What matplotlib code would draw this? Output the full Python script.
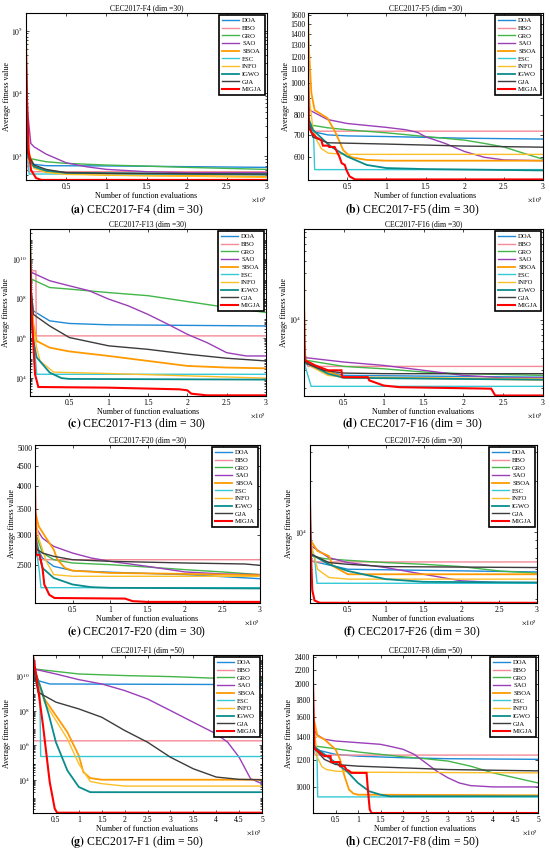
import matplotlib
matplotlib.use("Agg")
import matplotlib.pyplot as plt
from matplotlib.ticker import FixedLocator, FuncFormatter, LogLocator, NullLocator, NullFormatter, FixedFormatter

plt.rcParams['font.family'] = ['Liberation Serif', 'DejaVu Serif']
plt.rcParams['mathtext.fontset'] = 'stix'

# ---------------- data (x in units of 1e5 function evaluations) ----------------
ALGOS = ["DOA", "BBO", "GRO", "SAO", "SBOA", "ESC", "INFO", "IGWO", "GJA", "MIGJA"]

F4 = {
    "DOA":   ([0, 0.01, 0.04, 0.1, 0.25, 1.0, 3.0], [3.0e4, 2000, 865, 738, 703, 697, 661]),
    "BBO":   ([0, 0.01, 0.03, 3.0], [2.5e4, 1500, 564, 564]),
    "GRO":   ([0, 0.01, 0.04, 0.25, 0.5, 1, 1.5, 2, 2.5, 3], [3e4, 2000, 918, 813, 765, 720, 693, 661, 637, 614]),
    "SAO":   ([0, 0.02, 0.06, 0.1, 0.25, 0.5, 0.75, 1, 1.5, 2, 3], [5e4, 5000, 1590, 1405, 1076, 783, 677, 614, 564, 543, 543]),
    "SBOA":  ([0, 0.005, 0.02, 0.1, 0.25, 0.5, 1, 3], [1.9e5, 2e4, 1245, 677, 564, 531, 499, 470]),
    "ESC":   ([0, 0.01, 0.04, 3], [2e4, 1500, 518, 518]),
    "INFO":  ([0, 0.005, 0.02, 0.1, 0.25, 0.5, 3], [1e5, 1e4, 920, 640, 550, 510, 458]),
    "IGWO":  ([0, 0.02, 0.1, 0.25, 0.5, 3], [2e4, 975, 677, 585, 543, 506]),
    "GJA":   ([0, 0.02, 0.1, 0.25, 0.5, 1, 3], [3e4, 1103, 720, 614, 543, 531, 518]),
    "MIGJA": ([0, 0.0125, 0.033, 0.0625, 0.125, 0.19, 3], [4.8e4, 7800, 1260, 600, 447, 417, 417]),
}

F5 = {
    "DOA":   ([0, 0.06, 0.25, 0.5, 1, 1.5, 2, 3], [775, 716, 700, 695, 692, 688, 684, 680]),
    "BBO":   ([0, 0.04, 3], [741, 718, 718]),
    "GRO":   ([0, 0.05, 0.25, 0.5, 1, 1.5, 2, 2.25, 2.5, 2.75, 3], [775, 748, 735, 725, 710, 692, 675, 660, 644, 617, 592]),
    "SAO":   ([0, 0.02, 0.25, 0.5, 1, 1.25, 1.4, 1.5, 1.75, 2, 2.25, 2.5, 3], [848, 830, 778, 757, 737, 725, 712, 691, 660, 624, 600, 589, 586]),
    "SBOA":  ([0, 0.013, 0.043, 0.085, 0.25, 0.35, 0.45, 0.55, 0.75, 1, 3], [1620, 1252, 934, 830, 785, 712, 630, 600, 589, 586, 586]),
    "ESC":   ([0, 0.07, 0.085, 3], [741, 712, 551, 551]),
    "INFO":  ([0, 0.02, 0.06, 0.11, 0.17, 0.26, 0.5, 3], [1043, 889, 741, 675, 637, 617, 612, 612]),
    "IGWO":  ([0, 0.06, 0.2, 0.3, 0.5, 0.75, 1, 1.5, 3], [792, 726, 675, 644, 603, 569, 557, 553, 548]),
    "GJA":   ([0, 0.06, 0.25, 0.5, 1, 2, 3], [775, 690, 663, 661, 657, 648, 643]),
    "MIGJA": ([0, 0.013, 0.043, 0.106, 0.17, 0.19, 0.255, 0.27, 0.34, 0.36, 0.40, 0.43, 0.47, 0.49, 0.53, 0.6, 3],
              [1091, 737, 712, 688, 675, 650, 650, 644, 644, 630, 603, 576, 569, 550, 526, 515, 515]),
}

F13 = {
    "DOA":   ([0, 0.043, 0.25, 0.5, 1, 3], [7.9e8, 2.4e7, 7.6e6, 5.6e6, 4.8e6, 4.2e6]),
    "BBO":   ([0, 0.02, 0.075, 0.08, 3], [1e9, 2.5e9, 2.5e9, 1.33e6, 1.33e6]),
    "GRO":   ([0, 0.02, 0.25, 0.5, 1, 1.5, 2, 2.5, 3], [3.2e11, 9.5e8, 3.6e8, 3.0e8, 2.0e8, 1.4e8, 7.1e7, 3.6e7, 2.0e7]),
    "SAO":   ([0, 0.02, 0.25, 0.5, 0.75, 1, 1.25, 1.5, 1.75, 2, 2.25, 2.5, 2.75, 3],
              [3e9, 2.07e9, 7.9e8, 4.4e8, 2.5e8, 9.4e7, 4.3e7, 1.6e7, 5.2e6, 1.6e6, 6.1e5, 1.9e5, 1.3e5, 1.3e5]),
    "SBOA":  ([0, 0.043, 0.085, 0.25, 0.5, 1, 1.5, 2, 2.5, 3], [7.9e8, 5.2e6, 7.4e5, 3.4e5, 2.2e5, 1.3e5, 7.3e4, 4.1e4, 3.4e4, 3.1e4]),
    "ESC":   ([0, 0.021, 0.064, 0.085, 3], [7.9e8, 1.6e7, 1.6e5, 1.56e4, 1.56e4]),
    "INFO":  ([0, 0.043, 0.085, 0.128, 0.3, 1, 2, 3], [7.9e8, 3.5e6, 3.4e5, 7.3e4, 2.0e4, 1.7e4, 1.3e4, 1.0e4]),
    "IGWO":  ([0, 0.043, 0.085, 0.25, 0.4, 0.5, 3], [1.1e8, 7.4e5, 1.1e5, 1.9e4, 1.0e4, 9.1e3, 8.4e3]),
    "GJA":   ([0, 0.043, 0.25, 0.5, 1, 1.5, 2, 2.5, 3], [7.9e8, 1.6e7, 4.2e6, 1.1e6, 4.2e5, 2.8e5, 1.6e5, 1.0e5, 7.3e4]),
    "MIGJA": ([0, 0.021, 0.064, 0.106, 1.0, 1.9, 2.0, 2.05, 2.25, 3],
              [4.6e10, 1.64e7, 1.56e4, 3570, 3310, 2730, 2430, 1650, 1360, 1360]),
}

F16 = {
    "DOA":   ([0, 0.03, 0.25, 0.5, 3], [4200, 3660, 3000, 2670, 2560]),
    "BBO":   ([0, 0.05, 3], [4000, 3300, 3300]),
    "GRO":   ([0, 0.03, 0.5, 1, 1.5, 2, 3], [4400, 3810, 3300, 3120, 2890, 2780, 2670]),
    "SAO":   ([0, 0.03, 0.5, 1, 1.5, 2, 2.5, 3], [4500, 4050, 3660, 3380, 3010, 2670, 2520, 2520]),
    "SBOA":  ([0, 0.005, 0.02, 0.25, 0.5, 3], [8.5e4, 6000, 3810, 3010, 2560, 2410]),
    "ESC":   ([0, 0.02, 0.09, 3], [4460, 3200, 2060, 2060]),
    "INFO":  ([0, 0.02, 0.1, 0.3, 0.6, 3], [5000, 3800, 3250, 2670, 2520, 2470]),
    "IGWO":  ([0, 0.02, 0.1, 0.3, 0.5, 3], [4200, 3660, 3380, 2780, 2520, 2410]),
    "GJA":   ([0, 0.03, 0.25, 0.5, 1, 3], [4000, 3520, 3010, 2820, 2780, 2780]),
    "MIGJA": ([0, 0.01, 0.14, 0.3, 0.47, 0.48, 0.8, 0.82, 1.0, 1.2, 2.35, 2.4, 3],
              [1.25e4, 3810, 3380, 3010, 3010, 2560, 2560, 2370, 2100, 2020, 1950, 1660, 1660]),
}

F20 = {
    "DOA":   ([0, 0.1, 0.25, 0.5, 1, 2, 3], [2826, 2611, 2485, 2423, 2400, 2366, 2310]),
    "BBO":   ([0, 0.01, 0.05, 3], [2660, 2660, 2585, 2585]),
    "GRO":   ([0, 0.1, 0.25, 0.5, 1, 1.5, 2, 2.5, 3], [3055, 2689, 2585, 2535, 2510, 2475, 2437, 2404, 2366]),
    "SAO":   ([0, 0.1, 0.25, 0.5, 0.75, 1, 1.5, 2, 2.5, 3], [3150, 2937, 2797, 2689, 2611, 2560, 2485, 2404, 2376, 2366]),
    "SBOA":  ([0, 0.05, 0.15, 0.25, 0.3, 0.4, 0.5, 1, 2, 3], [3440, 3150, 2937, 2743, 2585, 2461, 2423, 2390, 2376, 2357]),
    "ESC":   ([0, 0.035, 0.058, 0.08, 3], [3150, 2600, 2410, 2190, 2190]),
    "INFO":  ([0, 0.05, 0.15, 0.25, 0.5, 3], [3370, 2937, 2560, 2366, 2343, 2343]),
    "IGWO":  ([0, 0.1, 0.25, 0.5, 0.75, 1, 3], [3000, 2461, 2320, 2232, 2197, 2188, 2180]),
    "GJA":   ([0, 0.1, 0.25, 0.5, 1, 2, 2.8, 3], [2770, 2689, 2637, 2585, 2560, 2535, 2520, 2500]),
    "MIGJA": ([0, 0.013, 0.06, 0.08, 0.10, 0.124, 0.146, 0.19, 0.26, 1.2, 1.3, 1.5, 3],
              [3990, 2660, 2660, 2560, 2460, 2230, 2190, 2100, 2060, 2053, 2022, 2013, 2013]),
}

F26 = {
    "DOA":   ([0, 0.02, 0.5, 3], [7500, 6700, 5990, 5770]),
    "BBO":   ([0, 0.05, 3], [7000, 6620, 6620]),
    "GRO":   ([0, 0.02, 0.2, 0.5, 1, 1.5, 2, 2.5, 3], [8000, 7180, 6920, 6770, 6560, 6410, 6210, 5850, 5670]),
    "SAO":   ([0, 0.02, 0.25, 0.5, 1, 1.5, 2, 2.5, 3], [8500, 8220, 7020, 6560, 6130, 5590, 5110, 4990, 4990]),
    "SBOA":  ([0, 0.1, 0.25, 0.3, 0.5, 3], [9010, 7690, 7180, 6270, 5590, 5590]),
    "ESC":   ([0, 0.005, 0.02, 0.06, 0.093, 3], [3.2e4, 1.2e4, 8000, 7000, 4940, 4940]),
    "INFO":  ([0, 0.1, 0.25, 0.5, 3], [9010, 5990, 5350, 5230, 5230]),
    "IGWO":  ([0, 0.02, 0.25, 0.5, 1, 1.5, 3], [8000, 7340, 6410, 5850, 5230, 5040, 4990]),
    "GJA":   ([0, 0.02, 0.25, 0.5, 1, 3], [8000, 7340, 6560, 6410, 6210, 6130]),
    "MIGJA": ([0, 0.01, 0.03, 0.06, 0.13, 3], [1.52e4, 8000, 4500, 3900, 3780, 3780]),
}

F1 = {
    "DOA":   ([0, 0.11, 0.365, 5], [6.4e10, 5.6e9, 3.6e9, 3.3e9]),
    "BBO":   ([0, 0.01, 5], [6.4e10, 1.86e6, 1.86e6]),
    "GRO":   ([0, 1, 2, 3, 4, 5], [2.7e10, 1.36e10, 1.1e10, 9.6e9, 7.7e9, 6.4e9]),
    "SAO":   ([0, 0.5, 1, 1.5, 2, 2.5, 3, 3.5, 4, 4.25, 4.5, 4.75, 5],
              [2.7e10, 1.36e10, 6.4e9, 3.6e9, 1.5e9, 4.9e8, 1.05e8, 2.2e7, 4.7e6, 1.55e6, 2.1e5, 1.2e4, 6.2e3]),
    "SBOA":  ([0, 0.25, 0.5, 0.75, 1, 1.1, 1.25, 1.5, 5], [4.1e10, 4.9e8, 5.4e7, 5.9e6, 2.6e5, 2.9e4, 1.3e4, 1.05e4, 1.05e4]),
    "ESC":   ([0, 0.073, 0.146, 0.168, 5], [6.4e10, 4.5e9, 3.6e9, 2.3e5, 2.3e5]),
    "INFO":  ([0, 0.25, 0.5, 0.75, 1, 1.25, 1.5, 2, 5], [4.1e10, 3.2e8, 2.8e7, 2.4e6, 8.7e4, 8.3e3, 6.2e3, 4.5e3, 4.5e3]),
    "IGWO":  ([0, 0.2, 0.35, 0.5, 0.75, 1, 1.25, 5], [4.1e10, 1.2e9, 5.4e7, 1.55e6, 3.6e4, 4.0e3, 2.0e3, 2.0e3]),
    "GJA":   ([0, 0.11, 0.5, 1, 1.5, 2, 2.5, 3, 3.5, 4, 4.5, 5],
              [4.1e10, 1.2e9, 3.2e8, 1.3e8, 4.3e7, 7.4e6, 1.55e6, 2.1e5, 4.5e4, 1.5e4, 1.1e4, 1.05e4]),
    "MIGJA": ([0, 0.073, 0.219, 0.365, 0.474, 0.526, 5], [1.55e11, 1.1e10, 1.4e7, 7.7e3, 224, 130, 130]),
}

F8 = {
    "DOA":   ([0, 0.03, 0.5, 1, 2, 3, 5], [1350, 1288, 1245, 1230, 1217, 1209, 1204]),
    "BBO":   ([0, 0.05, 5], [1300, 1239, 1239]),
    "GRO":   ([0, 0.03, 0.5, 1, 1.5, 2, 2.5, 3, 3.5, 4, 4.5, 5],
              [1320, 1317, 1293, 1265, 1245, 1225, 1209, 1190, 1150, 1099, 1063, 1027]),
    "SAO":   ([0, 0.07, 0.25, 0.5, 1, 1.5, 1.75, 2, 2.25, 2.5, 2.75, 3, 3.25, 3.5, 4, 5],
              [1508, 1426, 1378, 1362, 1347, 1332, 1311, 1288, 1245, 1177, 1112, 1063, 1027, 1009, 1000, 1000]),
    "SBOA":  ([0, 0.1, 0.25, 0.5, 0.6, 0.7, 0.8, 0.9, 1, 5], [1614, 1409, 1378, 1288, 1204, 1075, 982, 956, 949, 945]),
    "ESC":   ([0, 0.09, 0.104, 5], [1320, 1250, 935, 935]),
    "INFO":  ([0, 0.1, 0.2, 0.3, 0.5, 1, 5], [1578, 1217, 1145, 1124, 1112, 1104, 1099]),
    "IGWO":  ([0, 0.03, 0.5, 0.75, 1, 1.25, 1.5, 1.7, 5], [1350, 1311, 1177, 1112, 1027, 971, 949, 939, 939]),
    "GJA":   ([0, 0.03, 0.25, 0.5, 1, 2, 3, 5], [1450, 1300, 1204, 1163, 1150, 1137, 1124, 1114]),
    "MIGJA": ([0, 0.03, 0.14, 0.25, 0.39, 0.40, 0.59, 0.60, 0.70, 0.74, 0.81, 0.85, 1.19, 1.22, 1.26, 1.30, 5],
              [2022, 1293, 1265, 1230, 1230, 1182, 1182, 1150, 1150, 1124, 1112, 1099, 1099, 982, 860, 839, 839]),
}

TITLES = ["CEC2017-F4 (dim =30)", "CEC2017-F5 (dim =30)", "CEC2017-F13 (dim =30)", "CEC2017-F16 (dim =30)",
          "CEC2017-F20 (dim =30)", "CEC2017-F26 (dim =30)", "CEC2017-F1 (dim =50)", "CEC2017-F8 (dim =50)"]
CAPTION_TAGS = ["(a)", "(b)", "(c)", "(d)", "(e)", "(f)", "(g)", "(h)"]
CAPTIONS = ["CEC2017-F4 (dim = 30)", "CEC2017-F5 (dim = 30)", "CEC2017-F13 (dim = 30)", "CEC2017-F16 (dim = 30)",
            "CEC2017-F20 (dim = 30)", "CEC2017-F26 (dim = 30)", "CEC2017-F1 (dim = 50)", "CEC2017-F8 (dim = 50)"]
DATASETS = [F4, F5, F13, F16, F20, F26, F1, F8]
X_MAX = [3, 3, 3, 3, 3, 3, 5, 5]
Y_LIMS = [(416, 1.9e5), (513, 1620), (1260, 3.16e11), (1640, 8.5e4),
          (2000, 5100), (3770, 3.29e4), (125, 1.7e11), (839, 2430)]
Y_TICKS = [[1e3, 1e4, 1e5], list(range(600, 1700, 100)), [1e4, 1e6, 1e8, 1e10], [1e4],
           list(range(2500, 5500, 500)), [1e4], [1e4, 1e6, 1e8, 1e10], list(range(1000, 2600, 200))]
Y_STYLE = ["sci", "plain", "sci", "sci", "plain", "sci", "sci", "plain"]

# ---------------- styles ----------------
COLORS = {"DOA": "#1f8ad6", "BBO": "#f48a96", "GRO": "#43b549", "SAO": "#9b3fb8", "SBOA": "#ff9a00",
          "ESC": "#35c9d6", "INFO": "#fcbf2a", "IGWO": "#0b8c8c", "GJA": "#3c3c3c", "MIGJA": "#ff0000"}
WIDTHS = {"SBOA": 1.3, "IGWO": 1.3, "MIGJA": 1.5}

W, H = 550, 856
# axes boxes in pixels: left, top, right, bottom
BOXES = [(26, 13, 267, 180), (308, 13, 543, 180),
         (30, 229, 266, 396), (304, 229, 543, 396),
         (35, 445, 260, 603), (310, 445, 537, 603),
         (33, 655, 262, 813), (313, 655, 538, 813)]
YLABEL_X = [8, 287, 7, 285, 13, 290, 8, 290]
CAPTION_POS = [(137, 210), (412, 210), (137, 424), (412, 424), (137, 632), (412, 632), (137, 842), (412, 842)]

fig = plt.figure(figsize=(W / 100, H / 100), dpi=100)

for i in range(8):
    l, t, r, b = BOXES[i]
    ax = fig.add_axes([l / W, 1 - b / H, (r - l) / W, (b - t) / H])
    data = DATASETS[i]
    for name in ALGOS:
        xs, ys = data[name]
        ax.plot([v * 1e5 for v in xs], ys, color=COLORS[name], lw=WIDTHS.get(name, 1.0), label=name,
                solid_joinstyle='miter')
    ax.set_yscale('log')
    ax.set_xlim(0, X_MAX[i] * 1e5)
    ax.set_ylim(*Y_LIMS[i])

    # x ticks
    xt = [k * 0.5e5 for k in range(1, int(X_MAX[i] * 2) + 1)]
    ax.xaxis.set_major_locator(FixedLocator(xt))
    ax.xaxis.set_major_formatter(FuncFormatter(lambda v, p: f"{v / 1e5:g}"))
    ax.xaxis.set_minor_locator(NullLocator())

    # y ticks
    ax.yaxis.set_major_locator(FixedLocator(Y_TICKS[i]))
    if Y_STYLE[i] == "plain":
        ax.yaxis.set_major_formatter(FixedFormatter([str(v) for v in Y_TICKS[i]]))
        ax.yaxis.set_minor_locator(NullLocator())
    else:
        import math
        ax.yaxis.set_major_formatter(FixedFormatter([r"$10^{%d}$" % round(math.log10(v)) for v in Y_TICKS[i]]))
        ax.yaxis.set_minor_locator(LogLocator(base=10, subs=range(2, 10), numticks=30))
        ax.yaxis.set_minor_formatter(NullFormatter())

    ax.tick_params(which='both', direction='in', top=True, right=True, labelsize=5.5, pad=2, width=0.5)
    ax.tick_params(which='major', length=2.5)
    ax.tick_params(which='minor', length=1.5)
    for s in ax.spines.values():
        s.set_linewidth(0.8)
        s.set_color('black')

    ax.set_title(TITLES[i], fontsize=5.5, pad=2)
    ax.set_xlabel("Number of function evaluations", fontsize=5.8, labelpad=1)
    ax.set_ylabel("Average fitness value", fontsize=5.8)
    ax.yaxis.set_label_coords((YLABEL_X[i] + 3 - l) / (r - l), 0.5)
    ax.text(1.0, -20 / (b - t), r"$\times10^5$", transform=ax.transAxes, ha='right', va='center', fontsize=5.2)

    leg = ax.legend(loc='upper right', fontsize=4.8, labelspacing=0.3, handlelength=2.6, handletextpad=0.5,
                    borderpad=0.4, borderaxespad=0.3, fancybox=False, framealpha=1, edgecolor='black')
    leg.get_frame().set_linewidth(1.2)

    cx, cy = CAPTION_POS[i]
    fig.text(cx / W, 1 - cy / H, r"$\mathbf{%s}$ %s" % (CAPTION_TAGS[i], CAPTIONS[i]),
             ha='center', va='center', fontsize=8.5)

fig.savefig("out.png", dpi=100)
